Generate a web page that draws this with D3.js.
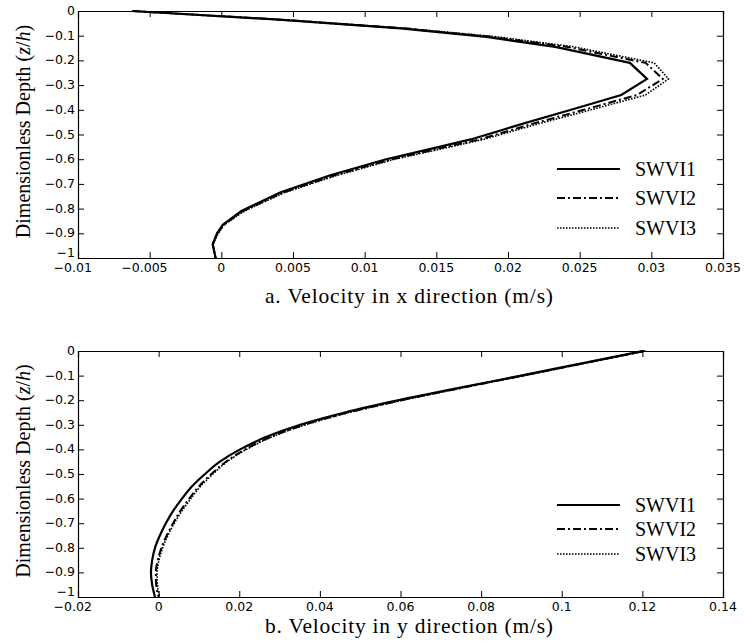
<!DOCTYPE html>
<html>
<head>
<meta charset="utf-8">
<title>Velocity profiles</title>
<script src="https://d3js.org/d3.v7.min.js"></script>
<style>
  body { margin: 0; background: #fff; }
  svg { display: block; }
</style>
</head>
<body>
<svg width="744" height="643"></svg>
<script>
// ---- data ----
var seriesNames = ["SWVI1", "SWVI2", "SWVI3"];

// panel a: velocity in x direction
var depthA = [0, -0.035, -0.07, -0.105, -0.145, -0.21, -0.275, -0.34, -0.40, -0.457,
              -0.52, -0.55, -0.60, -0.665, -0.735, -0.81, -0.865, -0.90, -0.945, -1];
var uA1 = [-0.0062, 0.0040, 0.0125, 0.0185, 0.0233, 0.0285, 0.0297, 0.0279, 0.0244, 0.0210,
           0.0174, 0.0152, 0.0115, 0.0076, 0.0041, 0.0014, 0.0001, -0.0003, -0.0006, -0.0004];
var uA2 = [-0.0062, 0.0041, 0.0127, 0.0189, 0.0241, 0.0296, 0.0308, 0.0290, 0.0253, 0.0217,
           0.0180, 0.0157, 0.0119, 0.0079, 0.0043, 0.0015, 0.0002, -0.0003, -0.0006, -0.0004];
var uA3 = [-0.0062, 0.0042, 0.0129, 0.0193, 0.0246, 0.0302, 0.0312, 0.0296, 0.0258, 0.0221,
           0.0183, 0.0160, 0.0121, 0.0081, 0.0044, 0.0016, 0.0002, -0.0002, -0.0006, -0.0004];
var xTicksA = [-0.01, -0.005, 0, 0.005, 0.01, 0.015, 0.02, 0.025, 0.03, 0.035];
var xTickLabelsA = ["\u22120.01", "\u22120.005", "0", "0.005", "0.01", "0.015", "0.02", "0.025", "0.03", "0.035"];

// panel b: velocity in y direction
var depthB = [0, -0.05, -0.1, -0.15, -0.2, -0.25, -0.3, -0.35, -0.4, -0.45, -0.5,
              -0.55, -0.6, -0.65, -0.7, -0.75, -0.8, -0.85, -0.9, -0.95, -1];
var uB1 = [0.1202, 0.1050, 0.0899, 0.0745, 0.0596, 0.0462, 0.0351, 0.0266, 0.0202, 0.0152, 0.0115,
           0.0083, 0.0058, 0.0036, 0.0018, 0.0003, -0.0009, -0.0016, -0.0019, -0.0016, -0.0009];
var uB2 = [0.1205, 0.1054, 0.0904, 0.0751, 0.0603, 0.0470, 0.0361, 0.0277, 0.0215, 0.0167, 0.0131,
           0.0100, 0.0076, 0.0054, 0.0036, 0.0020, 0.0007, -0.0002, -0.0007, -0.0006, 0.0000];
var uB3 = [0.1208, 0.1057, 0.0907, 0.0754, 0.0606, 0.0473, 0.0364, 0.0280, 0.0218, 0.0170, 0.0135,
           0.0104, 0.0080, 0.0058, 0.0039, 0.0023, 0.0010, 0.0001, -0.0004, -0.0003, 0.0002];
var xTicksB = [-0.02, 0, 0.02, 0.04, 0.06, 0.08, 0.1, 0.12, 0.14];
var xTickLabelsB = ["\u22120.02", "0", "0.02", "0.04", "0.06", "0.08", "0.1", "0.12", "0.14"];

var yTicks = [0, -0.1, -0.2, -0.3, -0.4, -0.5, -0.6, -0.7, -0.8, -0.9, -1];
var yTickLabels = ["0", "\u22120.1", "\u22120.2", "\u22120.3", "\u22120.4", "\u22120.5",
                   "\u22120.6", "\u22120.7", "\u22120.8", "\u22120.9", "\u22121"];

// ---- drawing ----
var svg = d3.select("svg");
var dashes = [null, "8,3,2,3", "1.6,1.4"];
var widths = [2.2, 2, 1.6];
var serif = "'Liberation Serif', 'Times New Roman', serif";
var sans = "'DejaVu Sans', sans-serif";

function drawPanel(p) {
    var x = d3.scaleLinear().domain(p.xDomain).range([p.left, p.right]);
    var y = d3.scaleLinear().domain([-1, 0]).range([p.bottom, p.top]);
    var g = svg.append("g");
    var tl = 6;

    // curves
    var line = d3.line()
        .x(function(d) { return x(d.u); })
        .y(function(d) { return y(d.z); })
        .curve(p.curve);
    p.series.forEach(function(us, i) {
        var pts = p.depth.map(function(z, k) { return {z: z, u: us[k]}; });
        g.append("path")
            .datum(pts)
            .attr("d", line)
            .attr("fill", "none")
            .attr("stroke", "#000")
            .attr("stroke-width", widths[i])
            .attr("stroke-dasharray", dashes[i]);
    });

    // axes (inward ticks, all four sides)
    var bottomAxis = d3.axisBottom(x).tickValues(p.xTicks).tickSize(-tl).tickFormat("");
    var topAxis = d3.axisTop(x).tickValues(p.xTicks).tickSize(-tl).tickFormat("");
    var leftAxis = d3.axisLeft(y).tickValues(yTicks).tickSize(-tl).tickFormat("");
    var rightAxis = d3.axisRight(y).tickValues(yTicks).tickSize(-tl).tickFormat("");
    [[bottomAxis, "translate(0," + p.bottom + ")"],
     [topAxis, "translate(0," + p.top + ")"],
     [leftAxis, "translate(" + p.left + ",0)"],
     [rightAxis, "translate(" + p.right + ",0)"]].forEach(function(a) {
        var ax = g.append("g").attr("transform", a[1]).call(a[0]);
        ax.select(".domain").attr("stroke", "#000").attr("stroke-width", 1.2);
        ax.selectAll(".tick line").attr("stroke", "#000").attr("stroke-width", 1);
    });

    // tick labels
    g.selectAll(".xlab")
        .data(p.xTicks)
        .enter().append("text")
        .attr("x", function(d) { return x(d); })
        .attr("y", p.bottom + 14)
        .attr("dx", function(d) { return d < 0 ? "-0.42em" : 0; })
        .attr("text-anchor", "middle")
        .attr("font-family", sans)
        .attr("font-size", 12.5)
        .text(function(d, i) { return p.xTickLabels[i]; });

    g.selectAll(".ylab")
        .data(yTicks)
        .enter().append("text")
        .attr("x", p.left - 3)
        .attr("y", function(d) { return y(d) + (d === -1 ? -1 : 4); })
        .attr("text-anchor", "end")
        .attr("font-family", sans)
        .attr("font-size", 12.5)
        .text(function(d, i) { return yTickLabels[i]; });

    // axis titles
    g.append("text")
        .attr("x", 265)
        .attr("y", p.xLabelY)
        .attr("textLength", 288)
        .attr("lengthAdjust", "spacing")
        .attr("font-family", serif)
        .attr("font-size", 21.5)
        .text(p.xLabel);

    var yl = g.append("text")
        .attr("transform", "translate(30," + ((p.top + p.bottom) / 2 - 3) + ") rotate(-90)")
        .attr("text-anchor", "middle")
        .attr("font-family", serif)
        .attr("font-size", 20);
    yl.append("tspan").text("Dimensionless Depth (");
    yl.append("tspan").attr("font-style", "italic").text("z");
    yl.append("tspan").text("/");
    yl.append("tspan").attr("font-style", "italic").text("h");
    yl.append("tspan").text(")");

    // legend
    seriesNames.forEach(function(name, i) {
        var ly = p.legendY[i];
        g.append("line")
            .attr("x1", 557).attr("x2", 620)
            .attr("y1", ly).attr("y2", ly)
            .attr("stroke", "#000")
            .attr("stroke-width", widths[i])
            .attr("stroke-dasharray", dashes[i]);
        g.append("text")
            .attr("x", 635)
            .attr("y", ly + 7)
            .attr("font-family", serif)
            .attr("font-size", 20)
            .text(name);
    });
}

drawPanel({
    left: 78, right: 723, top: 11, bottom: 258,
    xDomain: [-0.01, 0.035],
    xTicks: xTicksA, xTickLabels: xTickLabelsA,
    depth: depthA, series: [uA1, uA2, uA3],
    curve: d3.curveLinear,
    xLabel: "a. Velocity in x direction (m/s)", xLabelY: 303,
    legendY: [169, 198, 228]
});

drawPanel({
    left: 78, right: 723, top: 351, bottom: 597,
    xDomain: [-0.02, 0.14],
    xTicks: xTicksB, xTickLabels: xTickLabelsB,
    depth: depthB, series: [uB1, uB2, uB3],
    curve: d3.curveMonotoneY,
    xLabel: "b. Velocity in y direction (m/s)", xLabelY: 633,
    legendY: [505, 529, 554]
});
</script>
</body>
</html>
